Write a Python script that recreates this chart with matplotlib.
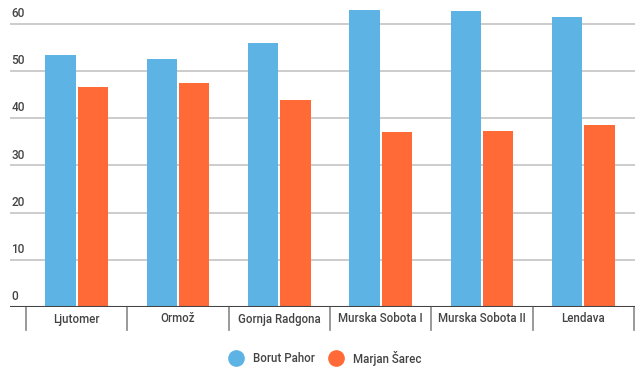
import matplotlib
matplotlib.use("Agg")
import matplotlib.pyplot as plt
import matplotlib.transforms as mtransforms
from matplotlib.lines import Line2D
import numpy as np

categories = ["Ljutomer", "Ormož", "Gornja Radgona", "Murska Sobota I", "Murska Sobota II", "Lendava"]
pahor = [53.4, 52.6, 55.9, 63.0, 62.7, 61.4]
sarec = [46.6, 47.4, 43.9, 37.0, 37.3, 38.6]
series_names = ["Borut Pahor", "Marjan Šarec"]
yticks = [0, 10, 20, 30, 40, 50, 60]

blue = "#5DB4E4"
orange = "#FF6A37"
txt = "#444444"

plt.rcParams['font.family'] = ['Roboto', 'DejaVu Sans']

fig = plt.figure(figsize=(6.4, 3.7), dpi=100)
ax = fig.add_axes([10/640, (370-307)/370, 625/640, 302/370])

x = np.arange(len(categories))
w = 0.30
ax.bar(x - w/2 - 0.01, pahor, width=w, color=blue, zorder=3)
ax.bar(x + w/2 + 0.01, sarec, width=w, color=orange, zorder=3)

ax.set_xlim(-0.5 - 16/101.3, 5.5 + 1/101.3)
ax.set_ylim(0, 64)

for s in ax.spines.values():
    s.set_visible(False)
ax.set_xticks([])
ax.set_yticks([])

trans = mtransforms.blended_transform_factory(ax.transAxes, ax.transData)
for t in yticks:
    if t > 0:
        ax.axhline(t, color="#CCCCCC", lw=1.4, zorder=1)
    ax.text(0.002, t + 0.8, str(t), transform=trans, ha='left', va='bottom',
            fontsize=8.5, color=txt, fontweight='medium')

ax.axhline(0, color="#444444", lw=1.5, zorder=4)

tsep = mtransforms.blended_transform_factory(ax.transData, ax.transAxes)
for b in np.arange(len(categories) + 1) - 0.5:
    ax.add_line(Line2D([b, b], [0, -23/302], transform=tsep, color="#888888",
                       lw=1.2, clip_on=False))
for i, c in enumerate(categories):
    ax.text(i, -12/302, c, transform=tsep, ha='center', va='center',
            fontsize=8.3, color=txt, fontweight='medium')

handles = [Line2D([], [], marker='o', ls='', markersize=11, color=blue),
           Line2D([], [], marker='o', ls='', markersize=11, color=orange)]
leg = fig.legend(handles, series_names, loc='center', ncol=2,
                 bbox_to_anchor=(323/640, 1 - 358/370), frameon=False,
                 fontsize=8.3, handletextpad=0.4, columnspacing=0.9)
for t in leg.get_texts():
    t.set_color(txt)
    t.set_fontweight('medium')

fig.savefig("out.png", dpi=100)
